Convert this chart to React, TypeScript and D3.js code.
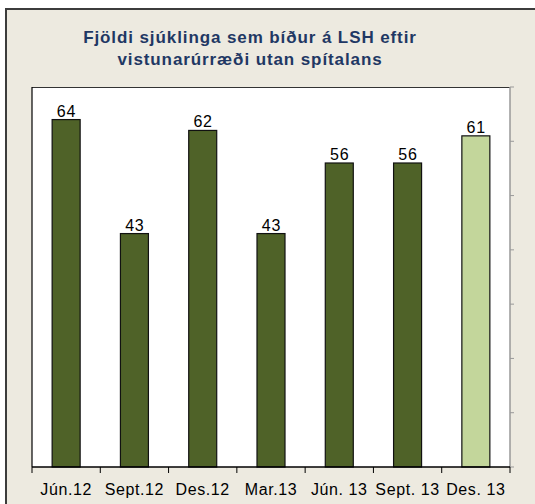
import React from 'react'
import * as d3 from 'd3'

// values
const categories = ['Jún.12', 'Sept.12', 'Des.12', 'Mar.13', 'Jún. 13', 'Sept. 13', 'Des. 13']
const patients = [64, 43, 62, 43, 56, 56, 61]
const highlight = ['Des. 13']
const yTicks = [0, 10, 20, 30, 40, 50, 60, 70]
const titleLines = ['Fjöldi sjúklinga sem bíður á LSH eftir', 'vistunarúrræði utan spítalans']

const W = 535
const H = 504
const plot = { left: 32, right: 510, top: 87, bottom: 467 }
const font = '"Liberation Sans", Arial, sans-serif'

const App = () => {
  const x = d3
    .scaleBand<string>()
    .domain(categories)
    .range([plot.left, plot.right])
    .paddingInner(0.59)
    .paddingOuter(0.295)

  const y = d3.scaleLinear().domain([0, 70]).range([plot.bottom, plot.top])

  const step = x.step()
  // category boundaries for the bottom tick marks
  const boundaries = d3.range(categories.length + 1).map((i) => plot.left + i * step)

  return (
    <svg width={W} height={H} style={{ position: 'absolute', left: 0, top: 0 }}>
      <rect x={0} y={0} width={W} height={H} fill="#fff" />
      {/* outer frame */}
      <rect x={6} y={9} width={W + 10} height={H + 10} fill="#EDEAE0" stroke="#3c3c3c" strokeWidth={2} />

      {/* title */}
      <text textAnchor="middle" fontFamily={font} fontWeight="bold" fontSize={17} letterSpacing={0.9} fill="#1F3864">
        {titleLines.map((line, i) => (
          <tspan key={i} x={250} y={42.5 + i * 22}>
            {line}
          </tspan>
        ))}
      </text>

      {/* plot area */}
      <rect x={plot.left} y={plot.top} width={plot.right - plot.left} height={plot.bottom - plot.top} fill="#fff" />
      <line x1={plot.left} x2={plot.right} y1={plot.top + 0.5} y2={plot.top + 0.5} stroke="#333" strokeWidth={1} />

      {/* bars */}
      {categories.map((c, i) => {
        const v = patients[i]
        const bx = x(c) as number
        return (
          <g key={c}>
            <rect
              x={bx}
              y={y(v)}
              width={x.bandwidth()}
              height={y(0) - y(v)}
              fill={highlight.includes(c) ? '#C3D69B' : '#4F6228'}
              stroke="#111"
              strokeWidth={1.2}
            />
            <text
              x={bx + x.bandwidth() / 2 + 0.4}
              y={y(v) - 3}
              textAnchor="middle"
              fontFamily={font}
              fontSize={16}
              letterSpacing={0.8}
              fill="#000"
            >
              {v}
            </text>
          </g>
        )
      })}

      {/* secondary right axis (grey, no labels) */}
      <line x1={plot.right} x2={plot.right} y1={plot.top} y2={plot.bottom} stroke="#999" strokeWidth={1.5} />
      {yTicks.map((t) => (
        <line key={t} x1={plot.right} x2={plot.right + 4} y1={y(t)} y2={y(t)} stroke="#999" strokeWidth={1} />
      ))}

      {/* left axis */}
      <line x1={plot.left} x2={plot.left} y1={plot.top} y2={plot.bottom} stroke="#000" strokeWidth={1.2} />

      {/* bottom axis */}
      <line x1={plot.left} x2={plot.right} y1={plot.bottom} y2={plot.bottom} stroke="#000" strokeWidth={1.5} />
      {boundaries.map((bx, i) => (
        <line key={i} x1={bx} x2={bx} y1={plot.bottom} y2={plot.bottom + 6} stroke="#000" strokeWidth={1} />
      ))}
      {categories.map((c) => (
        <text
          key={c}
          x={(x(c) as number) + x.bandwidth() / 2}
          y={495}
          textAnchor="middle"
          fontFamily={font}
          fontSize={16}
          letterSpacing={0.6}
          fill="#000"
        >
          {c}
        </text>
      ))}
    </svg>
  )
}

export default App
